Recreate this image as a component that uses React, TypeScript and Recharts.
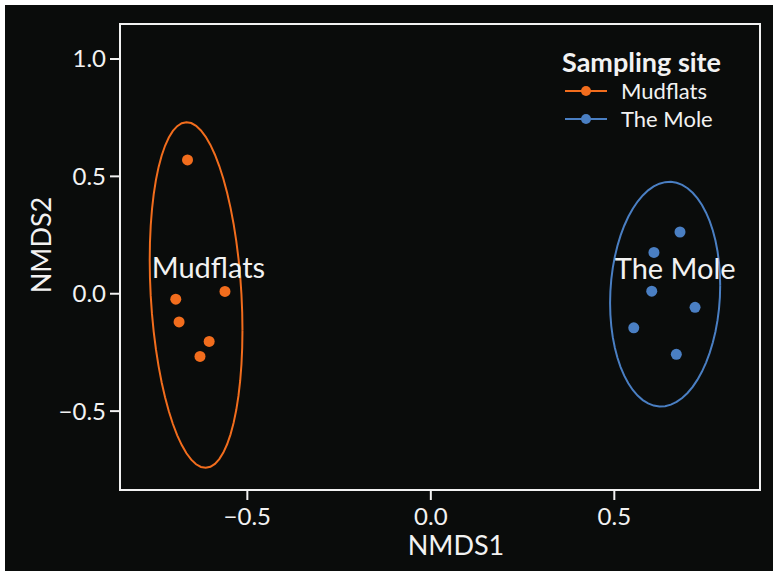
import { ScatterChart, Scatter, XAxis, YAxis, ReferenceArea, Legend } from 'recharts'

const sites = ['Mudflats', 'The Mole']
const siteColors = ['#f26d1d', '#4a7fc3']

const mudflatsX = [-0.663, -0.561, -0.695, -0.686, -0.604, -0.629]
const mudflatsY = [0.57, 0.01, -0.023, -0.12, -0.203, -0.267]
const moleX = [0.679, 0.608, 0.602, 0.72, 0.553, 0.669]
const moleY = [0.263, 0.176, 0.011, -0.058, -0.145, -0.258]

// where the site names are written inside the plot
const labelX = [-0.606, 0.666]
const labelY = [0.115, 0.11]

const xTicks = [-0.5, 0, 0.5]
const yTicks = [-0.5, 0, 0.5, 1.0]
const xDomain = [-0.847, 0.897]
const yDomain = [-0.836, 1.149]

const FONT = 'Lato, "Open Sans", sans-serif'
const FG = '#f2f2f2'
const BG = '#0a0c0b'

const toPoints = (xs: number[], ys: number[]) => xs.map((x, i) => ({ x, y: ys[i] }))

// 95% data ellipse (sd based, like vegan::ordiellipse kind = "sd")
function ellipse(xs: number[], ys: number[]) {
  const n = xs.length
  const mx = xs.reduce((s, v) => s + v, 0) / n
  const my = ys.reduce((s, v) => s + v, 0) / n
  let sxx = 0
  let syy = 0
  let sxy = 0
  for (let i = 0; i < n; i++) {
    sxx += (xs[i] - mx) ** 2
    syy += (ys[i] - my) ** 2
    sxy += (xs[i] - mx) * (ys[i] - my)
  }
  sxx /= n - 1
  syy /= n - 1
  sxy /= n - 1
  const a = Math.sqrt(sxx)
  const b = sxy / a
  const c = Math.sqrt(syy - b * b)
  const r = Math.sqrt(-2 * Math.log(1 - 0.95))
  const pts = []
  for (let i = 0; i <= 60; i++) {
    const t = (2 * Math.PI * i) / 60
    pts.push({ x: mx + r * a * Math.cos(t), y: my + r * (b * Math.cos(t) + c * Math.sin(t)) })
  }
  return pts
}

const groups = [toPoints(mudflatsX, mudflatsY), toPoints(moleX, moleY)]
const ellipses = [ellipse(mudflatsX, mudflatsY), ellipse(moleX, moleY)]
const labels = sites.map((name, i) => ({ x: labelX[i], y: labelY[i], name }))

const fmt = (v: number) => (v < 0 ? '\u2212' + Math.abs(v).toFixed(1) : v.toFixed(1))

function SiteLegend() {
  return (
    <div style={{ fontFamily: FONT, color: FG }}>
      <div style={{ fontWeight: 700, fontSize: 27, lineHeight: '30px' }}>Sampling site</div>
      {sites.map((s, i) => (
        <div key={s} style={{ display: 'flex', alignItems: 'center', height: 28, marginLeft: 3 }}>
          <svg width={42} height={12}>
            <line x1={0} y1={6} x2={42} y2={6} stroke={siteColors[i]} strokeWidth={2} />
            <circle cx={21} cy={6} r={5} fill={siteColors[i]} />
          </svg>
          <span style={{ marginLeft: 14, fontSize: 22, lineHeight: '28px' }}>{s}</span>
        </div>
      ))}
    </div>
  )
}

export default function App() {
  return (
    <div style={{ paddingLeft: 5, paddingTop: 5, background: '#ffffff' }}>
      <style>{'body { margin: 0; }'}</style>
      <div style={{ width: 768, height: 566, background: BG }}>
        <ScatterChart width={768} height={566} margin={{ top: 19, right: 13, left: 55, bottom: 20 }}>
          <XAxis
            type="number"
            dataKey="x"
            domain={xDomain}
            ticks={xTicks}
            allowDataOverflow
            height={61}
            tickFormatter={fmt}
            tick={{ fill: FG, fontSize: 24, fontFamily: FONT }}
            tickLine={{ stroke: FG, strokeWidth: 2 }}
            tickSize={10}
            tickMargin={8}
            axisLine={false}
            label={{
              content: (p: any) => (
                <text
                  x={p.viewBox.x + p.viewBox.width / 2 + 16}
                  y={p.viewBox.y + 65}
                  textAnchor="middle"
                  fill={FG}
                  fontSize={27}
                  fontFamily={FONT}
                >
                  NMDS1
                </text>
              ),
            }}
          />
          <YAxis
            type="number"
            dataKey="y"
            domain={yDomain}
            ticks={yTicks}
            allowDataOverflow
            width={60}
            tickFormatter={fmt}
            tick={{ fill: FG, fontSize: 24, fontFamily: FONT }}
            tickLine={{ stroke: FG, strokeWidth: 2 }}
            tickSize={10}
            tickMargin={4}
            axisLine={false}
            label={{
              content: (p: any) => {
                const cx = 35
                const cy = p.viewBox.y + p.viewBox.height / 2 - 12
                return (
                  <text
                    x={cx}
                    y={cy}
                    transform={`rotate(-90 ${cx} ${cy})`}
                    textAnchor="middle"
                    dominantBaseline="central"
                    fill={FG}
                    fontSize={27}
                    fontFamily={FONT}
                  >
                    NMDS2
                  </text>
                )
              },
            }}
          />
          <ReferenceArea
            x1={xDomain[0]}
            x2={xDomain[1]}
            y1={yDomain[0]}
            y2={yDomain[1]}
            fill="none"
            stroke={FG}
            strokeWidth={2}
          />
          {ellipses.map((pts, i) => (
            <Scatter
              key={'e' + i}
              data={pts}
              line={{ stroke: siteColors[i], strokeWidth: 2 }}
              lineType="joint"
              shape={() => <g />}
              legendType="none"
              isAnimationActive={false}
            />
          ))}
          {groups.map((pts, i) => (
            <Scatter
              key={sites[i]}
              name={sites[i]}
              data={pts}
              fill={siteColors[i]}
              shape={(p: any) => <circle cx={p.cx} cy={p.cy} r={5.5} fill={siteColors[i]} />}
              isAnimationActive={false}
            />
          ))}
          <Scatter
            data={labels}
            legendType="none"
            isAnimationActive={false}
            shape={(p: any) => (
              <text
                x={p.cx}
                y={p.cy}
                textAnchor="middle"
                dominantBaseline="central"
                fill={FG}
                fontSize={29}
                fontFamily={FONT}
              >
                {p.payload.name}
              </text>
            )}
          />
          <Legend
            layout="horizontal"
            verticalAlign="middle"
            align="center"
            wrapperStyle={{ left: 557, top: 42, width: 'auto' }}
            content={() => <SiteLegend />}
          />
        </ScatterChart>
      </div>
    </div>
  )
}
